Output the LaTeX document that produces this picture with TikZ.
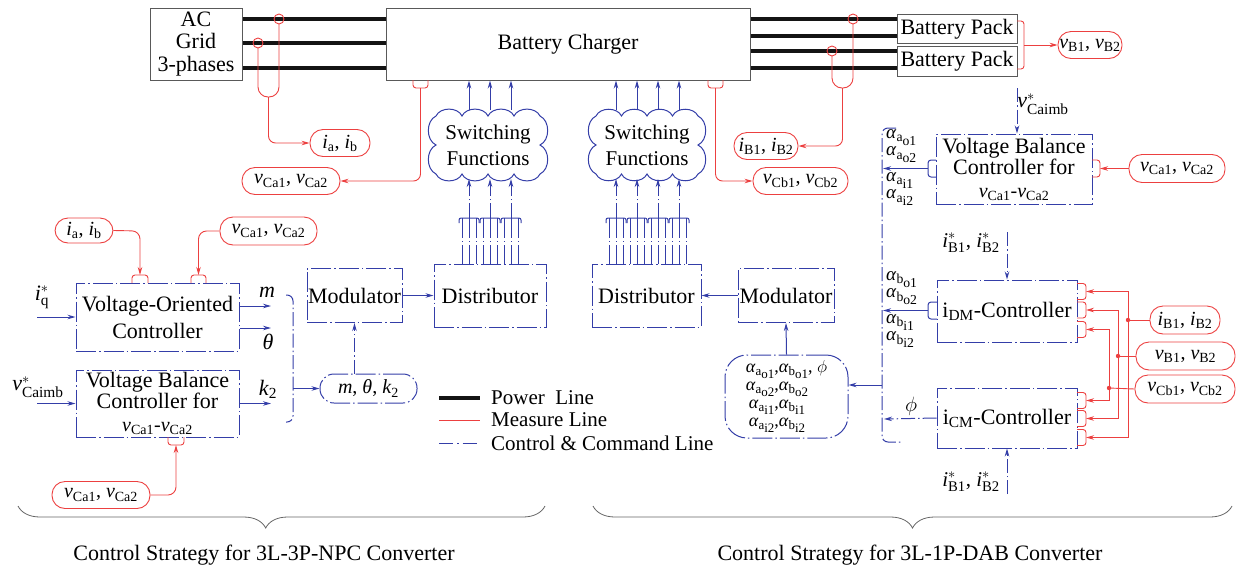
\documentclass[tikz,border=0pt]{standalone}
\usepackage{fontspec}
\setmainfont{Liberation Serif}
\usepackage{amsmath}
\usetikzlibrary{arrows.meta,decorations.pathreplacing}
\definecolor{ctrl}{RGB}{52,62,168}
\definecolor{meas}{RGB}{236,64,64}
\definecolor{pwr}{RGB}{20,20,20}
\newcommand{\sv}[2]{\textit{#1}$_{\text{#2}}$}
\newcommand{\al}[2]{\textit{α}\raisebox{-0.2em}{\scalebox{0.72}{#1}}\raisebox{-0.38em}{\scalebox{0.72}{#2}}}
\newcommand{\st}[2]{\textit{#1}$^{*}_{\text{#2}}$}
\newcommand{\fA}{\fontsize{22}{23}\selectfont}
\newcommand{\fB}{\fontsize{20}{22}\selectfont}
\newcommand{\fC}{\fontsize{19}{16}\selectfont}
\tikzset{
  dd/.style={dash pattern=on 20pt off 3pt on 1.5pt off 3pt},
  ddshort/.style={dash pattern=on 14pt off 3pt on 1.5pt off 3pt},
  pbox/.style={draw=black!65, line width=1pt, inner sep=0pt, align=center, font=\fA},
  cbox/.style={draw=ctrl, line width=1pt, dd, inner sep=0pt, align=center, font=\fA},
  moval/.style={draw=meas, line width=0.9pt, rounded corners=13pt, inner sep=0pt, minimum height=27pt, font=\fB},
  coval/.style={draw=ctrl, line width=1pt, dd, inner sep=0pt, align=center},
  mline/.style={draw=meas, line width=0.9pt},
  cline/.style={draw=ctrl, line width=1pt},
  cdash/.style={draw=ctrl, line width=1pt, ddshort},
  arr/.style={-{Stealth[length=8pt,width=4.5pt]}},
  power/.style={draw=pwr, line width=4pt},
  lbl/.style={inner sep=0pt, font=\fA},
  ctext/.style={inner sep=0pt, align=center, font=\fontsize{21}{26}\selectfont},
  brc/.style={draw=black!60, line width=0.8pt, decorate},
}
\begin{document}
\begin{tikzpicture}[x=1pt,y=-1pt]
\useasboundingbox (0,0) rectangle (1238,576);
% ---------------- top: power part
\node[pbox, minimum width=92, minimum height=72, font=\fontsize{22}{22.5}\selectfont] (grid) at (196,44) {AC\\Grid\\3-phases};
\node[pbox, minimum width=364, minimum height=72] (chg) at (568,44) {Battery Charger};
\node[pbox, minimum width=120, minimum height=29] (bp1) at (957,29) {Battery Pack};
\node[pbox, minimum width=120, minimum height=30] (bp2) at (957,61) {Battery Pack};
\foreach \y in {19,43,68} \draw[power] (grid.east |- 0,\y) -- (chg.west |- 0,\y);
\foreach \y in {19,36} \draw[power] (chg.east |- 0,\y) -- (bp1.west |- 0,\y);
\foreach \y in {51,68} \draw[power] (chg.east |- 0,\y) -- (bp2.west |- 0,\y);
% measurements top
\foreach \p in {(279,19),(258,43),(853,19),(832,51)} \draw[mline] \p circle[radius=5];
\draw[mline, rounded corners=10] (258,48) -- (258,97) -- (279,97) -- (279,24);
\node[moval, minimum width=60] (ia1) at (340,143) {\sv{i}{a}, \sv{i}{b}};
\draw[mline, arr, rounded corners=7] (268.5,97) -- (268.5,143) -- (ia1.west);
\draw[mline, rounded corners=3] (413,80) -- (413,88) -- (428,88) -- (428,80);
\node[moval, minimum width=98] (vca1) at (291,181) {\sv{v}{Ca1}, \sv{v}{Ca2}};
\draw[mline, arr, rounded corners=7] (420.5,88) -- (420.5,181) -- (vca1.east);
\draw[mline, rounded corners=10] (832,56) -- (832,88) -- (853,88) -- (853,24);
\node[moval, minimum width=64] (ib1) at (766,146) {\sv{i}{B1}, \sv{i}{B2}};
\draw[mline, arr, rounded corners=7] (842.5,88) -- (842.5,146) -- (ib1.east);
\draw[mline, rounded corners=3] (708,80) -- (708,88) -- (723,88) -- (723,80);
\node[moval, minimum width=95] (vcb1) at (800.5,181) {\sv{v}{Cb1}, \sv{v}{Cb2}};
\draw[mline, arr, rounded corners=7] (715.5,88) -- (715.5,181) -- (vcb1.west);
\draw[mline, rounded corners=3] (1017,21) -- (1024,21) -- (1024,69) -- (1017,69);
\node[moval, minimum width=64] (vb1) at (1090,45) {\sv{v}{B1}, \sv{v}{B2}};
\draw[mline, arr] (1024,45) -- (vb1.west);
% ---------------- switching functions clouds
\draw[cline] (436,116) foreach \i in {1,2,3,4}{ to[bend left=65] ({436+26*\i},116) }
  foreach \i in {1,2}{ to[bend left=65] (540,{116+29*\i}) }
  foreach \i in {1,2,3,4}{ to[bend left=65] ({540-26*\i},174) }
  foreach \i in {1,2}{ to[bend left=65] (436,{174-29*\i}) };
\node[ctext, minimum width=104, minimum height=58] (sw1) at (488,145) {Switching\\Functions};
\draw[cline] (596,116) foreach \i in {1,2,3,4}{ to[bend left=65] ({596+25.5*\i},116) }
  foreach \i in {1,2}{ to[bend left=65] (698,{116+29*\i}) }
  foreach \i in {1,2,3,4}{ to[bend left=65] ({698-25.5*\i},174) }
  foreach \i in {1,2}{ to[bend left=65] (596,{174-29*\i}) };
\node[ctext, minimum width=102, minimum height=58] (sw2) at (647,145) {Switching\\Functions};
\foreach \c in {469,490,511} \draw[cline, arr] (\c,110) -- (chg.south -| \c,0);
\foreach \c in {616,637,658,679} \draw[cline, arr] (\c,110) -- (chg.south -| \c,0);
% ---------------- distributors / modulators
\node[cbox, minimum width=112, minimum height=63] (distL) at (490,295.5) {Distributor};
\node[cbox, minimum width=109, minimum height=63] (distR) at (646.5,295.5) {Distributor};
\node[cbox, minimum width=95, minimum height=54] (modL) at (354.5,295.5) {Modulator};
\node[cbox, minimum width=96, minimum height=54] (modR) at (786,295.5) {Modulator};
\draw[cline, arr] (modL.east) -- (distL.west);
\draw[cline, arr] (modR.west) -- (distR.east);
\foreach \c in {469,490,511} {
  \draw[cline, rounded corners=2] ({\c-10},223) -- ({\c-10},218) -- ({\c+10},218) -- ({\c+10},223);
  \draw[cline, arr, dash pattern=on 15pt off 3pt on 1pt off 3pt] (\c,218) -- (\c,179);
  \foreach \d in {-7,0,7} \draw[cline, dash pattern=on 20pt off 3pt on 1pt off 3pt] ({\c+\d},218) -- (distL.north -| {\c+\d},0);
}
\foreach \c in {616,637,658,679} {
  \draw[cline, rounded corners=2] ({\c-10},223) -- ({\c-10},218) -- ({\c+10},218) -- ({\c+10},223);
  \draw[cline, arr, dash pattern=on 15pt off 3pt on 1pt off 3pt] (\c,218) -- (\c,179);
  \foreach \d in {-7,0,7} \draw[cline, dash pattern=on 20pt off 3pt on 1pt off 3pt] ({\c+\d},218) -- (distR.north -| {\c+\d},0);
}
% ---------------- left control (3L-3P-NPC)
\node[cbox, minimum width=163, minimum height=68, font=\fontsize{22}{27}\selectfont] (voc) at (157.5,317) {Voltage-Oriented\\Controller};
\node[cbox, minimum width=163, minimum height=67, font=\fontsize{22}{21}\selectfont] (vbcL) at (157.5,403.5) {Voltage Balance\\Controller for\\[2pt]{\fontsize{20}{21}\selectfont\sv{v}{Ca1}-\sv{v}{Ca2}}};
\node[moval, minimum width=58, minimum height=25] (iaL) at (84,230.5) {\sv{i}{a}, \sv{i}{b}};
\node[moval, minimum width=97, minimum height=28] (vcaL) at (268.5,231) {\sv{v}{Ca1}, \sv{v}{Ca2}};
\draw[mline, rounded corners=3] (132,283) -- (132,275) -- (148,275) -- (148,283);
\draw[mline, rounded corners=3] (191,283) -- (191,275) -- (206,275) -- (206,283);
\draw[mline, arr, rounded corners=8] (iaL.east) -- (140,231) -- (140,275);
\draw[mline, arr, rounded corners=8] (vcaL.west) -- (198.5,231) -- (198.5,275);
\node[moval, minimum width=98, minimum height=27] (vcaB) at (101,495) {\sv{v}{Ca1}, \sv{v}{Ca2}};
\draw[mline, rounded corners=3] (168,437) -- (168,445) -- (184,445) -- (184,437);
\draw[mline, arr, rounded corners=8] (vcaB.east) -- (176,495) -- (176,445);
\node[lbl] (iq) at (42,297) {\st{i}{q}};
\coordinate (iqs) at (37,317);
\draw[cline, arr] (iqs) -- (voc.west);
\node[lbl] (vim) at (38,387) {\st{v}{Caimb}};
\coordinate (vims) at (37,403.5);
\draw[cline, arr] (vims) -- (vbcL.west);
\coordinate (mE) at (271,306); \coordinate (tE) at (271,328); \coordinate (kE) at (271,403.5);
\draw[cline, arr] (voc.east |- mE) -- (mE);
\draw[cline, arr] (voc.east |- tE) -- (tE);
\draw[cline, arr] (vbcL.east) -- (kE);
\node[lbl] (mL) at (267,292) {\textit{m}};
\node[lbl] (tL) at (268,342) {\textit{θ}};
\node[lbl] (kL) at (268,389) {\textit{k}$_{\text{2}}$};
\node[coval, rounded corners=14pt, minimum width=97, minimum height=29, font=\fB] (mtk) at (368.5,388.5) {\textit{m}, \textit{θ}, \textit{k}$_{\text{2}}$};
\draw[cdash, rounded corners=6] (286,295) -- (293,295) -- (293,422) -- (286,422);
\draw[cline, arr] (293,388.5) -- (mtk.west);
\draw[cdash, arr] (mtk.north -| modL.south) -- (modL.south);
% ---------------- legend
\draw[power, line width=3.5pt] (439,398) -- (480,398);
\node[lbl, anchor=west, font=\fontsize{21}{22}\selectfont] (lg1) at (491,398) {Power\ \ Line};
\draw[mline] (439,420) -- (480,420);
\node[lbl, anchor=west, font=\fontsize{21}{22}\selectfont] (lg2) at (491,420) {Measure Line};
\draw[cline, dash pattern=on 14pt off 4pt on 1.5pt off 4pt] (439,443) -- (480,443);
\node[lbl, anchor=west, font=\fontsize{21}{22}\selectfont] (lg3) at (491,443) {Control \& Command Line};
% ---------------- right control (3L-1P-DAB)
\node[coval, rounded corners=22pt, minimum width=123, minimum height=83, font=\fontsize{18}{18}\selectfont] (alph) at (786.5,396.5)
 {\al{a}{o1},\al{b}{o1}, $\phi$\\\al{a}{o2},\al{b}{o2}\hphantom{, $\phi$}\\\al{a}{i1},\al{b}{i1}\hphantom{, $\phi$}\\\al{a}{i2},\al{b}{i2}\hphantom{, $\phi$}};
\draw[cline, arr] (alph.north) -- (modR.south);
\node[cbox, minimum width=156, minimum height=70, font=\fontsize{22}{21}\selectfont] (vbcR) at (1014,169) {Voltage Balance\\Controller for\\[2pt]{\fontsize{20}{21}\selectfont\sv{v}{Ca1}-\sv{v}{Ca2}}};
\node[moval, minimum width=96, minimum height=28] (vcaR) at (1177,168.5) {\sv{v}{Ca1}, \sv{v}{Ca2}};
\draw[mline, rounded corners=3] (1092,160) -- (1100,160) -- (1100,177) -- (1092,177);
\draw[mline, arr] (vcaR.west) -- (1100,168.5);
\node[lbl] (vimR) at (1043,104) {\st{v}{Caimb}};
\draw[cdash, arr] (1017,88) -- (vbcR.north -| 1017,0);
\draw[cline, rounded corners=3] (936,160) -- (928,160) -- (928,177) -- (936,177);
\coordinate (aA) at (883,168.5);
\draw[cline, arr] (928,168.5) -- (aA);
\node[lbl, font=\fC, anchor=south west, align=left] (aa1) at (886,163) {\al{a}{o1}\\\al{a}{o2}};
\node[lbl, font=\fC, anchor=north west, align=left] (aa2) at (886,172) {\al{a}{i1}\\\al{a}{i2}};
\node[cbox, minimum width=140, minimum height=62] (dm) at (1007,311) {i$_{\text{DM}}$-Controller};
\node[cbox, minimum width=140, minimum height=60] (cm) at (1007,418) {i$_{\text{CM}}$-Controller};
\draw[cline, rounded corners=3] (937,302) -- (928,302) -- (928,319) -- (937,319);
\coordinate (aB) at (883,310.5);
\draw[cline, arr] (928,310.5) -- (aB);
\node[lbl, font=\fC, anchor=south west, align=left] (ab1) at (886,305) {\al{b}{o1}\\\al{b}{o2}};
\node[lbl, font=\fC, anchor=north west, align=left] (ab2) at (886,314) {\al{b}{i1}\\\al{b}{i2}};
\coordinate (phE) at (884,419);
\draw[cdash, arr] (cm.west) -- (phE);
\node[lbl] (phL) at (911,406) {$\phi$};
\draw[cdash, rounded corners=6] (896,128) -- (882,128) -- (882,442) -- (902,442);
\draw[cline, arr] (882,385) -- (alph.east |- 0,385);
\node[lbl, font=\fontsize{21}{22}\selectfont] (ibs1) at (971,243) {\st{i}{B1}, \st{i}{B2}};
\node[lbl, font=\fontsize{21}{22}\selectfont] (ibs2) at (971,482) {\st{i}{B1}, \st{i}{B2}};
\draw[cdash, arr] (1007,232) -- (dm.north -| 1007,0);
\draw[cdash, arr] (1007,494) -- (cm.south -| 1007,0);
\foreach \yc in {291.5,310,329.5,400.5,418.5,437.5}
  \draw[mline, rounded corners=3] (1077,{\yc-8}) -- (1086,{\yc-8}) -- (1086,{\yc+8}) -- (1077,{\yc+8});
\node[moval, minimum width=70, minimum height=28] (ibR) at (1185,320) {\sv{i}{B1}, \sv{i}{B2}};
\node[moval, minimum width=99, minimum height=28] (vbR) at (1185.5,356) {\sv{v}{B1}, \sv{v}{B2}};
\node[moval, minimum width=100, minimum height=28] (vcbR) at (1185,389) {\sv{v}{Cb1}, \sv{v}{Cb2}};
\coordinate (j1) at (1128,320); \coordinate (j2) at (1118,356); \coordinate (j3) at (1109,388);
\draw[mline] (ibR.west) -- (j1); \draw[mline] (vbR.west) -- (j2); \draw[mline] (vcbR.west) -- (j3);
\draw[mline, arr] (j1) |- (1086,291.5); \draw[mline, arr] (j1) |- (1086,437.5);
\draw[mline, arr] (j2) |- (1086,310);   \draw[mline, arr] (j2) |- (1086,418.5);
\draw[mline, arr] (j3) |- (1086,329.5); \draw[mline, arr] (j3) |- (1086,400.5);
\foreach \j in {j1,j2,j3} \fill[meas] (\j) circle[radius=2.2];
% ---------------- bottom braces and captions
\draw[brc, decoration={brace, mirror, amplitude=22pt, aspect=0.47}] (18,506) -- (545,506);
\draw[brc, decoration={brace, mirror, amplitude=22pt}] (593,506) -- (1232,506);
\node[lbl, font=\fontsize{22}{23}\selectfont] (cap1) at (264,555) {Control Strategy for 3L-3P-NPC Converter};
\node[lbl, font=\fontsize{22}{23}\selectfont] (cap2) at (910,555) {Control Strategy for 3L-1P-DAB Converter};
\end{tikzpicture}
\end{document}
